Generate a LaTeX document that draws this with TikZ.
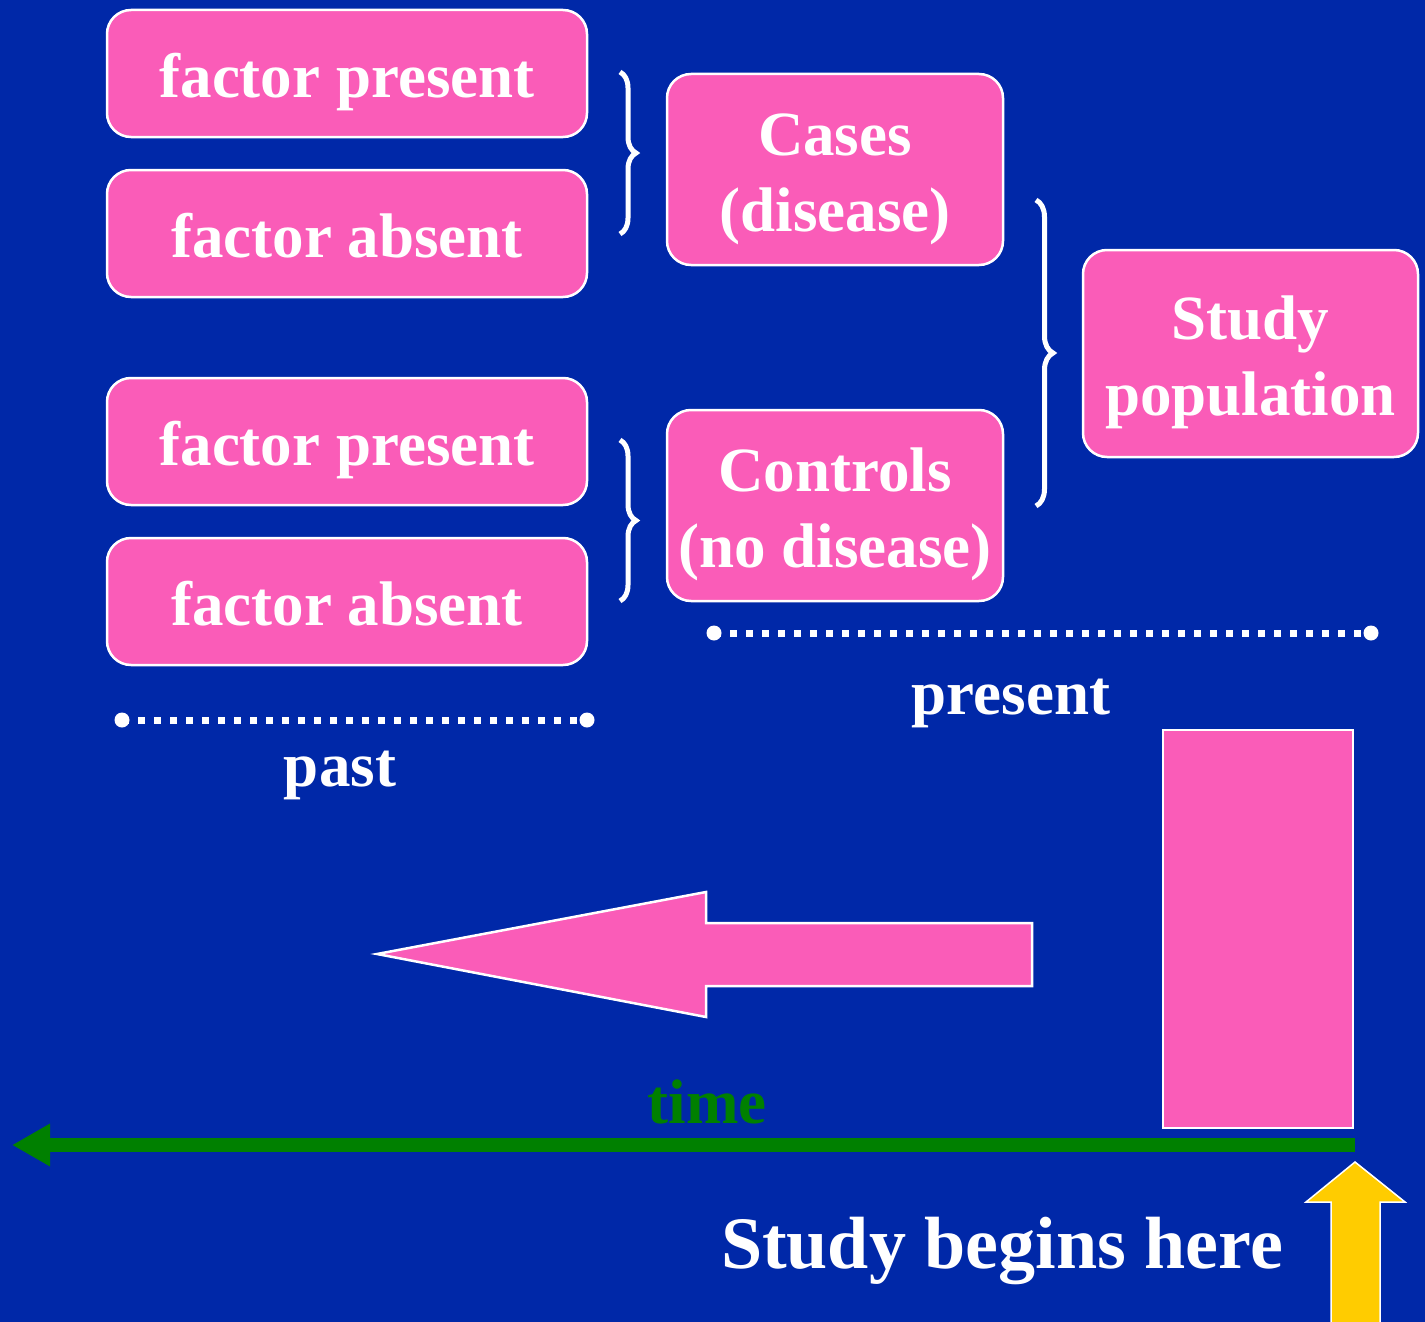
\documentclass[tikz,border=0pt]{standalone}
\usepackage{fontspec}
\setmainfont{Liberation Serif}
\usetikzlibrary{decorations.pathreplacing,arrows.meta}

\definecolor{bgblue}{RGB}{0,40,168}
\definecolor{boxpink}{RGB}{250,92,184}
\definecolor{timegreen}{RGB}{0,128,0}
\definecolor{startyellow}{RGB}{255,204,0}

\tikzset{
  pinkbox/.style={draw=white, line width=2.5pt, fill=boxpink, rounded corners=24pt,
    text=white, font=\bfseries\fontsize{63}{76}\selectfont, align=center, inner sep=0pt},
  factorbox/.style={pinkbox, minimum width=480pt, minimum height=127pt,
    text height=60pt, text depth=12pt},
  groupbox/.style={pinkbox, minimum width=336pt, minimum height=191pt,
    text height=130pt, text depth=6pt},
  bracket/.style={draw=white, line width=5pt, decorate, decoration={brace, amplitude=16pt}},
  timeline/.style={draw=white, line width=7pt, dash pattern=on 7pt off 9pt},
  lbltext/.style={text=white, font=\bfseries\fontsize{63}{76}\selectfont, inner sep=0pt, anchor=base},
}

\begin{document}
\begin{tikzpicture}[x=1pt, y=-1pt]
  % Background
  \path[use as bounding box, fill=bgblue] (0,0) rectangle (1425,1322);

  % Exposure boxes
  \foreach \name/\txt/\y in {fpA/factor present/73.5, faA/factor absent/233.5,
                             fpB/factor present/441.5, faB/factor absent/601.5}{
    \node[factorbox] (\name) at (347,\y) {\txt};
  }

  % Groups
  \node[groupbox] (cases) at (835,169.5) {Cases\\(disease)};
  \node[groupbox] (controls) at (835,505.5) {Controls\\(no disease)};
  \node[groupbox, minimum width=335pt, minimum height=207pt] (studypop) at (1250.5,353.5) {Study\\population};

  % Braces
  \draw[bracket] (620,72) -- (620,234);
  \draw[bracket] (620,440) -- (620,601);
  \draw[bracket, decoration={amplitude=17pt}] (1036,200) -- (1036,506);

  % Past and present lines
  \coordinate (pastL) at (122,720);
  \coordinate (pastR) at (587,720);
  \coordinate (presL) at (714,633);
  \coordinate (presR) at (1371,633);
  \draw[timeline] (pastL) -- (pastR);
  \draw[timeline] (presL) -- (presR);
  \foreach \c in {pastL,pastR,presL,presR}{
    \fill[white] (\c) circle (7.5pt);
  }
  \node[lbltext] (past) at (340,786) {past};
  \node[lbltext] (present) at (1011,714) {present};

  % Big backwards arrow
  \draw[white, line width=2.5pt, fill=boxpink]
    (1032,923) -- (706,923) -- (706,892) -- (377,954) -- (706,1017) -- (706,986) -- (1032,986) -- cycle;

  % Start bar
  \draw[white, line width=2.5pt, fill=boxpink] (1163,730) rectangle (1353,1128);

  % Time axis
  \coordinate (timeR) at (1355,1145);
  \coordinate (timeL) at (12,1145);
  \draw[timegreen, line width=14pt, -{Triangle[length=38pt, width=40pt]}] (timeR) -- (timeL);
  \node[lbltext, text=timegreen] (time) at (707,1123) {time};

  % Study begins here
  \node[lbltext, font=\bfseries\fontsize{74}{88}\selectfont] (begins) at (1002,1268) {Study begins here};
  \draw[white, line width=1.5pt, fill=startyellow]
    (1331,1330) -- (1331,1202) -- (1306,1202) -- (1355,1162) -- (1405,1202) -- (1380,1202) -- (1380,1330);
\end{tikzpicture}
\end{document}
